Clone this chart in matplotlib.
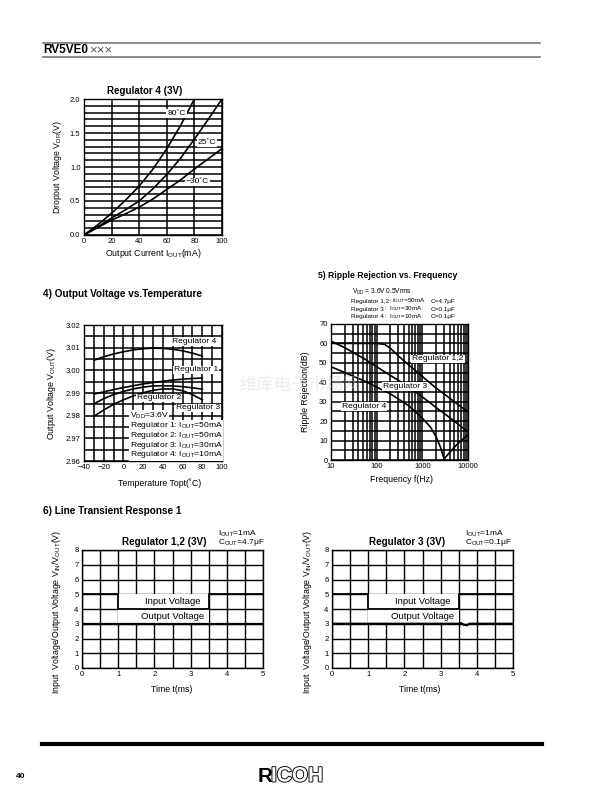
import matplotlib
matplotlib.use('Agg')
import matplotlib.pyplot as plt
import matplotlib.patheffects as pe
from matplotlib.ticker import MultipleLocator, FixedLocator, NullFormatter, LogLocator, FormatStrFormatter

plt.rcParams['font.family'] = ['Liberation Sans', 'Noto Sans CJK SC', 'DejaVu Sans']
plt.rcParams['mathtext.fontset'] = 'custom'
plt.rcParams['mathtext.rm'] = 'Liberation Sans'
plt.rcParams['mathtext.it'] = 'Liberation Sans:italic'
plt.rcParams['mathtext.bf'] = 'Liberation Sans:bold'

W, H = 609, 793

# --- dropout voltage vs output current, Regulator 4 (3V)
iout = [0, 10, 20, 30, 40, 50, 60, 70, 80, 90, 100]
vdr_80 = [0, 0.15, 0.32, 0.51, 0.72, 0.97, 1.27, 1.61, 2.0]
vdr_25 = [0, 0.12, 0.25, 0.37, 0.5, 0.68, 0.89, 1.13, 1.41, 1.7, 2.0]
vdr_m30 = [0, 0.11, 0.22, 0.31, 0.41, 0.53, 0.67, 0.81, 0.97, 1.12, 1.27]

# --- output voltage vs temperature
topt = [-30, -20, -10, 0, 10, 20, 30, 40, 50, 60, 70, 80]
vout_r4 = [3.0044, 3.0060, 3.0072, 3.0082, 3.0090, 3.0095, 3.0098, 3.0097, 3.0093, 3.0086, 3.0076, 3.0063]
vout_r1 = [2.9895, 2.9905, 2.9915, 2.9924, 2.9932, 2.9940, 2.9946, 2.9952, 2.9957, 2.9961, 2.9964, 2.9966]
vout_r2 = [2.9852, 2.9875, 2.9893, 2.9907, 2.9918, 2.9926, 2.9931, 2.9932, 2.9931, 2.9928, 2.9923, 2.9917]
vout_r3 = [2.9797, 2.9825, 2.9850, 2.9870, 2.9887, 2.9901, 2.9912, 2.9918, 2.9918, 2.9910, 2.9893, 2.9870]
cond_lines = ['V$_{\\mathrm{DD}}$=3.6V',
              'Regulator 1: I$_{\\mathrm{OUT}}$=50mA',
              'Regulator 2: I$_{\\mathrm{OUT}}$=50mA',
              'Regulator 3: I$_{\\mathrm{OUT}}$=30mA',
              'Regulator 4: I$_{\\mathrm{OUT}}$=10mA']

# --- ripple rejection vs frequency
f12 = [10, 20, 50, 100, 150, 200, 300, 500, 1000, 2000, 3000, 5000, 10000]
rr12 = [60, 60, 60, 60, 59.5, 57.5, 53.5, 49, 43, 37, 34, 30, 24.7]
f3 = [10, 20, 50, 100, 200, 300, 500, 1000, 2000, 3000, 5000, 10000]
rr3 = [61.2, 57.8, 52.5, 48, 43.5, 41, 37.5, 32.5, 27, 24, 20, 14.5]
f4 = [10, 20, 50, 100, 200, 500, 1000, 1500, 2000, 2500, 3000, 4000, 6000, 10000]
rr4 = [48, 45, 41, 37.5, 34, 28, 21.5, 17, 12, 6.5, 0.5, 4, 8.5, 13]
rr_cond = [('Regulator 1,2:', r'I$_{\mathrm{OUT}}$=50mA', 'C=4.7μF'),
           ('Regulator 3', r':  I$_{\mathrm{OUT}}$=30mA', 'C=0.1μF'),
           ('Regulator 4', r':  I$_{\mathrm{OUT}}$=10mA', 'C=0.1μF')]

# --- line transient response
t_in = [0, 1, 1, 3.5, 3.5, 5]
v_in = [5, 5, 4, 4, 5, 5]
t_out12 = [0, 5]
v_out12 = [3, 3]
t_out3 = [0, 3.5, 3.55, 3.65, 3.72, 3.8, 5]
v_out3 = [3, 3, 3.05, 2.93, 2.9, 3.0, 3]

fig = plt.figure(figsize=(W / 100, H / 100), dpi=100)


def axes_px(x0, y0, x1, y1):
    return fig.add_axes([x0 / W, 1 - y1 / H, (x1 - x0) / W, (y1 - y0) / H])


def txt(x, y, s, **kw):
    kw.setdefault('ha', 'center')
    kw.setdefault('va', 'center')
    return fig.text(x / W, 1 - y / H, s, **kw)


def style(ax, lw=1.1):
    ax.tick_params(which='both', length=0, labelsize=5.5, pad=2.5)
    for s in ax.spines.values():
        s.set_linewidth(1.0)
    ax.grid(which='both', color='black', linewidth=lw)
    ax.set_axisbelow(True)


box = dict(facecolor='white', edgecolor='none', pad=0.6)
LBL = 6.3   # axis label size
ANN = 6.1   # in-plot label size

# header / footer
fig.add_artist(plt.Line2D([43 / W, 540 / W], [1 - 43 / H] * 2, color='#777777', lw=1.2))
fig.add_artist(plt.Line2D([43 / W, 540 / W], [1 - 57 / H] * 2, color='#777777', lw=1.2))
txt(43.5, 50, 'RV5VE0', ha='left', fontsize=8.5, fontweight='bold')
txt(89.5, 50, '×××', ha='left', fontsize=9.5, color='#555555')
fig.add_artist(plt.Line2D([42 / W, 542 / W], [1 - 744 / H] * 2, color='black', lw=3))
txt(20.5, 776, '40', fontsize=6, fontweight='bold')
txt(258, 776, 'R', ha='left', fontsize=15, fontweight='bold')
txt(271, 776, 'ICOH', ha='left', fontsize=15, fontweight='bold', color='white',
    path_effects=[pe.withStroke(linewidth=1.3, foreground='black')])

# watermark
txt(300, 385, '维库电子市场网', fontsize=12.5, color='#d0d0d0', alpha=0.4, zorder=10)

# ---------- dropout chart
ax = axes_px(84, 99, 222, 235)
ax.plot(iout[:len(vdr_80)], vdr_80, color='black', lw=1.2)
ax.plot(iout, vdr_25, color='black', lw=1.2)
ax.plot(iout, vdr_m30, color='black', lw=1.2)
ax.set_xlim(0, 100)
ax.set_ylim(0, 2.0)
ax.xaxis.set_major_locator(MultipleLocator(20))
ax.yaxis.set_major_locator(MultipleLocator(0.5))
ax.yaxis.set_minor_locator(MultipleLocator(0.1))
ax.yaxis.set_major_formatter(FormatStrFormatter('%.1f'))
style(ax)
ax.text(67, 1.79, '80˚C', fontsize=ANN, ha='center', va='center', bbox=box, zorder=5)
ax.text(89, 1.36, '25˚C', fontsize=ANN, ha='center', va='center', bbox=box, zorder=5)
ax.text(82, 0.78, '−30˚C', fontsize=ANN, ha='center', va='center', bbox=box, zorder=5)
txt(145, 91, 'Regulator 4 (3V)', fontsize=7, fontweight='bold')
txt(153, 253, r'Output Current I$_{\mathrm{OUT}}$(mA)', fontsize=LBL)
txt(57, 167, r'Dropout Voltage V$_{\mathrm{DR}}$(V)', fontsize=LBL, rotation=90)

# ---------- output voltage vs temperature
txt(43, 294, '4) Output Voltage vs.Temperature', ha='left', fontsize=7.2, fontweight='bold')
ax = axes_px(84, 325, 222, 461)
for v in (vout_r4, vout_r1, vout_r2, vout_r3):
    ax.plot(topt, v, color='black', lw=1.2)
ax.set_xlim(-40, 100)
ax.set_ylim(2.96, 3.02)
ax.xaxis.set_minor_locator(MultipleLocator(10))
ax.yaxis.set_major_locator(MultipleLocator(0.01))
ax.yaxis.set_minor_locator(MultipleLocator(0.005))
ax.yaxis.set_major_formatter(FormatStrFormatter('%.2f'))
ax.set_xticks([-40, -20, 0, 20, 40, 60, 80, 100])
ax.set_xticklabels(['−40', '−20', '0', '20', '40', '60', '80', '100'])
style(ax)
ax.text(71.3, 3.0127, 'Regulator 4', fontsize=ANN, ha='center', va='center', bbox=box, zorder=5)
ax.text(73.9, 3.0002, 'Regulator 1', fontsize=ANN, ha='center', va='center', bbox=box, zorder=5)
ax.text(36.3, 2.9878, 'Regulator 2', fontsize=ANN, ha='center', va='center', bbox=box, zorder=5)
ax.text(76.2, 2.9834, 'Regulator 3', fontsize=ANN, ha='center', va='center', bbox=box, zorder=5)
for i, s in enumerate(cond_lines):
    txt(129.5, 416 + i * 9.7, s, ha='left', fontsize=ANN, bbox=dict(facecolor='white', edgecolor='none', pad=0.4))
txt(160, 483, 'Temperature Topt(˚C)', fontsize=LBL)
txt(51, 393, r'Output Voltage V$_{\mathrm{OUT}}$(V)', fontsize=LBL, rotation=90)

# ---------- ripple rejection
txt(318, 275, '5) Ripple Rejection vs. Frequency', ha='left', fontsize=6.2, fontweight='bold')
txt(352, 292, r'V$_{\mathrm{DD}}$ = 3.6V 0.5Vrms', ha='left', fontsize=4.7)
for i, (a, b, c) in enumerate(rr_cond):
    yy = 301 + i * 8
    txt(351, yy, a, ha='left', fontsize=4.6)
    txt(392 if a.endswith(':') else 384.5, yy, b, ha='left', fontsize=4.6)
    txt(431, yy, c, ha='left', fontsize=4.6)
ax = axes_px(331, 324, 468, 460)
ax.plot(f12, rr12, color='black', lw=1.2)
ax.plot(f3, rr3, color='black', lw=1.2)
ax.plot(f4, rr4, color='black', lw=1.2)
ax.set_xscale('log')
ax.set_xlim(10, 10000)
ax.set_ylim(0, 70)
ax.xaxis.set_major_locator(FixedLocator([10, 100, 1000, 10000]))
ax.xaxis.set_minor_locator(LogLocator(base=10, subs=range(2, 10)))
ax.xaxis.set_minor_formatter(NullFormatter())
ax.set_xticklabels(['10', '100', '1000', '10000'])
ax.yaxis.set_major_locator(MultipleLocator(10))
ax.yaxis.set_minor_locator(MultipleLocator(5))
style(ax)
ax.text(2200, 52, 'Regulator 1,2', fontsize=ANN, ha='center', va='center', bbox=box, zorder=5)
ax.text(415, 37.7, 'Regulator 3', fontsize=ANN, ha='center', va='center', bbox=box, zorder=5)
ax.text(52, 27.4, 'Regulator 4', fontsize=ANN, ha='center', va='center', bbox=box, zorder=5)
txt(402, 480, 'Frequency f(Hz)', fontsize=LBL)
txt(305, 392, 'Ripple Rejection(dB)', fontsize=LBL, rotation=90)

# ---------- line transient response
txt(43, 511, '6) Line Transient Response 1', ha='left', fontsize=7.2, fontweight='bold')


def transient(rect, t_out, v_out, title, title_x, cond, cond_x, xl_x, yl_x):
    ax = axes_px(*rect)
    ax.add_patch(plt.Rectangle((1, 3), 2.5, 2, facecolor='white', edgecolor='none', zorder=2))
    ax.plot(t_in, v_in, color='black', lw=1.3, zorder=3)
    ax.plot(t_out, v_out, color='black', lw=1.6, zorder=3)
    ax.set_xlim(0, 5)
    ax.set_ylim(0, 8)
    ax.xaxis.set_major_locator(MultipleLocator(1))
    ax.xaxis.set_minor_locator(MultipleLocator(0.5))
    ax.yaxis.set_major_locator(MultipleLocator(1))
    style(ax, lw=1.0)
    ax.text(2.5, 4.5, 'Input Voltage', fontsize=6.8, ha='center', va='center', zorder=4)
    ax.text(2.5, 3.5, 'Output Voltage', fontsize=6.8, ha='center', va='center', zorder=4)
    txt(title_x, 542, title, fontsize=7.1, fontweight='bold')
    txt(cond_x, 533.5, r'I$_{\mathrm{OUT}}$=1mA', ha='left', fontsize=6)
    txt(cond_x, 542.5, r'C$_{\mathrm{OUT}}$=' + cond, ha='left', fontsize=6)
    txt(xl_x, 690, 'Time t(ms)', fontsize=LBL)
    txt(yl_x, 612, r'Input  Voltage/Output Voltage V$_{\mathrm{IN}}$/V$_{\mathrm{OUT}}$(V)',
        fontsize=LBL, rotation=90)


transient((82, 550, 263, 668), t_out12, v_out12, 'Regulator 1,2 (3V)', 164, '4.7μF', 218, 172, 57)
transient((332, 550, 513, 668), t_out3, v_out3, 'Regulator 3 (3V)', 407, '0.1μF', 465, 420, 307)

fig.savefig('out.png', dpi=100)
